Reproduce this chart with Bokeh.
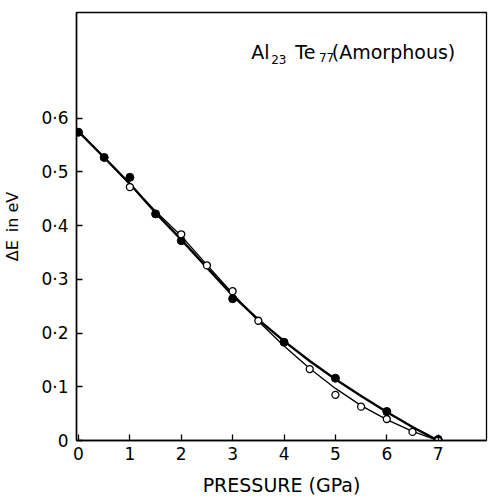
from bokeh.plotting import figure
from bokeh.models import Range1d, FixedTicker, Label
from bokeh.embed import file_html
from bokeh.resources import INLINE

# Smooth curves (pressure in GPa, gap in eV)
curve_p = [0, 0.5, 1, 1.5, 2, 2.5, 3, 3.5, 4, 4.5, 5, 5.5, 6, 6.5, 7]
curve_filled = [0.575, 0.527, 0.478, 0.424, 0.374, 0.322, 0.270, 0.225, 0.185,
                0.148, 0.114, 0.083, 0.053, 0.025, 0.0]
curve_open = [0.575, 0.527, 0.477, 0.427, 0.381, 0.327, 0.274, 0.222, 0.176,
              0.134, 0.097, 0.065, 0.039, 0.017, 0.0]

# Measured points
filled_p = [0, 0.5, 1, 1.5, 2, 3, 4, 5, 6, 7]
filled_e = [0.574, 0.527, 0.490, 0.422, 0.372, 0.264, 0.183, 0.116, 0.054, 0.002]
open_p = [1, 2, 2.5, 3, 3.5, 4.5, 5, 5.5, 6, 6.5, 7]
open_e = [0.472, 0.384, 0.326, 0.278, 0.223, 0.133, 0.085, 0.063, 0.040, 0.016, 0.0]

x_ticks = [0, 1, 2, 3, 4, 5, 6, 7]
y_ticks = [0, 0.1, 0.2, 0.3, 0.4, 0.5, 0.6]
y_tick_labels = ["0", "0·1", "0·2", "0·3", "0·4", "0·5", "0·6"]

FONT = "DejaVu Sans"

p = figure(width=488, height=500, x_range=Range1d(-0.039, 7.94),
           y_range=Range1d(0, 0.797), output_backend="svg",
           toolbar_location=None, min_border_left=75, min_border_right=2,
           min_border_top=12, min_border_bottom=60)
p.xgrid.visible = False
p.ygrid.visible = False
p.outline_line_color = "black"
p.outline_line_width = 1.3
p.background_fill_color = "white"
p.border_fill_color = "white"

for ax in (p.xaxis[0], p.yaxis[0]):
    ax.major_tick_in = 6
    ax.major_tick_out = 0
    ax.minor_tick_line_color = None
    ax.axis_line_width = 1.5
    ax.axis_line_color = "black"
    ax.major_tick_line_color = "black"
    ax.major_tick_line_width = 1.3
    ax.major_label_text_font = FONT
    ax.major_label_text_font_size = "17px"
    ax.major_label_text_color = "black"
    ax.axis_label_text_font = FONT
    ax.axis_label_text_font_style = "normal"
    ax.axis_label_text_color = "black"

p.xaxis.ticker = FixedTicker(ticks=x_ticks)
p.yaxis.ticker = FixedTicker(ticks=y_ticks)
p.yaxis.major_label_overrides = {t: s for t, s in zip(y_ticks, y_tick_labels)}
p.xaxis.major_label_standoff = 6
p.yaxis.major_label_standoff = 8
p.xaxis.axis_label = "PRESSURE (GPa)"
p.xaxis.axis_label_text_font_size = "19px"
p.xaxis.axis_label_standoff = 11
p.yaxis.axis_label = "ΔE\u2002in eV"
p.yaxis.axis_label_text_font_size = "16px"
p.yaxis.axis_label_standoff = 16

p.line(curve_p, curve_filled, line_color="black", line_width=2.4)
p.line(curve_p, curve_open, line_color="black", line_width=1.3)
p.scatter(filled_p, filled_e, size=8, fill_color="black", line_color="black")
p.scatter(open_p, open_e, size=7, fill_color="white", line_color="black",
          line_width=1.3)

# Composition label: Al23 Te77 (Amorphous)
parts = [
    ("Al", 3.36, 0.724, "19px"),
    ("23", 3.75, 0.709, "12px"),
    ("Te", 4.22, 0.724, "19px"),
    ("77", 4.68, 0.714, "12px"),
    ("(Amorphous)", 4.93, 0.724, "19px"),
]
for txt, xx, yy, fs in parts:
    p.add_layout(Label(x=xx, y=yy, text=txt, text_font=FONT,
                       text_font_size=fs, text_color="black",
                       text_baseline="alphabetic"))

open("out.html", "w").write(file_html(p, INLINE))
